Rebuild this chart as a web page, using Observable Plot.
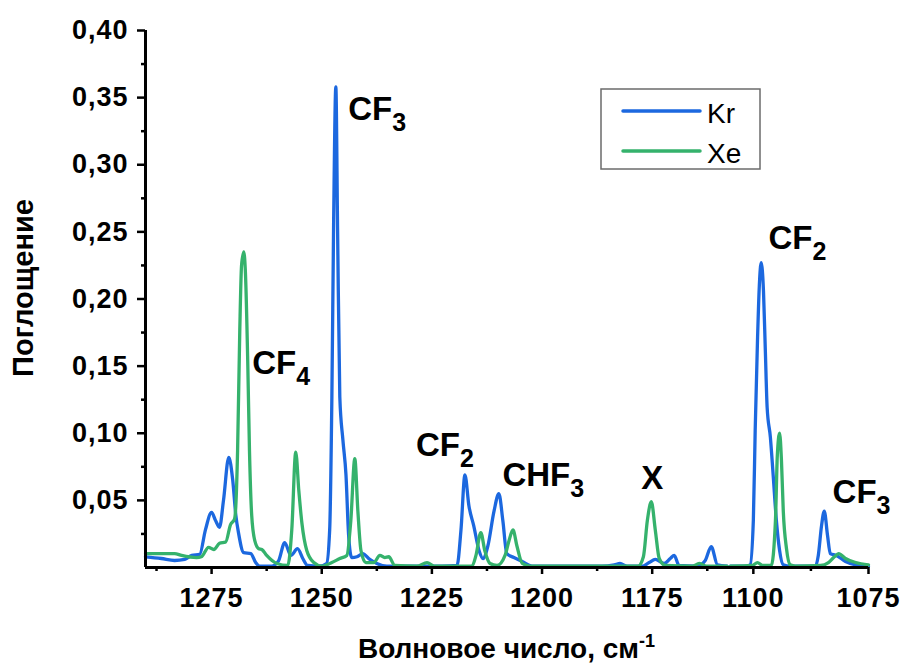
<!DOCTYPE html>
<html>
<head>
<meta charset="utf-8">
<script src="https://cdn.jsdelivr.net/npm/d3@7"></script>
<script src="https://cdn.jsdelivr.net/npm/@observablehq/plot@0.6"></script>
<style>
  body { margin: 0; background: #fff; }
  svg text { font-family: "Liberation Sans", Arial, sans-serif; }
  g[aria-label="y-axis tick label"] text, g[aria-label="x-axis tick label"] text { letter-spacing: 1px; }
</style>
</head>
<body>
<div id="chart"></div>
<script>
// ---- Data ----
const seriesNames = ["Kr", "Xe"];
const seriesColors = ["#1c68df", "#35b26c"];

const krWavenumber = [1290, 1286.4, 1283.4, 1281.1, 1279.5, 1277.7, 1276.4, 1275.0, 1274.1, 1273.2, 1272.3, 1271.1, 1270.2, 1269.5, 1268.9, 1267.7, 1266.1, 1265.0, 1264.1, 1261.4, 1259.8, 1258.4, 1257.0, 1255.5, 1254.3, 1253.2, 1250.5, 1248.9, 1248.2, 1247.7, 1247.3, 1246.8, 1246.4, 1245.9, 1245.2, 1244.5, 1243.9, 1243.2, 1242.0, 1240.7, 1239.1, 1237.5, 1235.2, 1222.7, 1219.3, 1218.4, 1217.5, 1216.6, 1215.5, 1214.3, 1213.4, 1212.3, 1210.9, 1209.8, 1208.9, 1208.0, 1206.4, 1204.5, 1202.3, 1186.4, 1183.6, 1182.3, 1180.7, 1177.3, 1175.7, 1174.3, 1172.3, 1170.9, 1170.0, 1168.9, 1164.8, 1163.0, 1161.6, 1160.2, 1158.0,
  1105, 1101.7, 1100.7, 1100.0, 1099.6, 1099.1, 1098.7, 1098.3, 1097.8, 1097.4, 1097.0, 1096.3, 1095.7, 1095.0, 1094.3, 1093.5, 1092.0, 1086.5, 1085.9, 1085.2, 1084.6, 1083.9, 1083.3, 1082.0, 1080.0, 1077.8, 1075.0];
const krAbsorbance = [0.008, 0.0067, 0.0052, 0.006, 0.009, 0.0097, 0.028, 0.041, 0.035, 0.030, 0.050, 0.082, 0.065, 0.039, 0.026, 0.011, 0.0104, 0.0037, 0.001, 0.001, 0.005, 0.0186, 0.009, 0.014, 0.0067, 0.0015, 0.001, 0.003, 0.028, 0.127, 0.258, 0.358, 0.251, 0.127, 0.095, 0.069, 0.024, 0.0074, 0.008, 0.0104, 0.006, 0.003, 0.001, 0.001, 0.0015, 0.028, 0.069, 0.046, 0.031, 0.0127, 0.0067, 0.016, 0.042, 0.055, 0.035, 0.0104, 0.0074, 0.0045, 0.001, 0.001, 0.002, 0.003, 0.001, 0.001, 0.0037, 0.006, 0.003, 0.0067, 0.009, 0.0015, 0.001, 0.005, 0.0156, 0.002, 0.001,
  0.001, 0.001, 0.002, 0.035, 0.102, 0.169, 0.21, 0.227, 0.206, 0.162, 0.119, 0.097, 0.069, 0.035, 0.0127, 0.002, 0.001, 0.001, 0.009, 0.031, 0.042, 0.024, 0.0104, 0.009, 0.0045, 0.002, 0.001];

const xeWavenumber = [1290, 1286.4, 1283.4, 1281.8, 1278.4, 1277.3, 1275.7, 1274.5, 1273.2, 1271.8, 1270.7, 1269.8, 1269.5, 1269.1, 1268.6, 1268.2, 1267.7, 1267.3, 1266.8, 1266.4, 1265.9, 1265.2, 1264.3, 1263.6, 1262.5, 1260.2, 1257.7, 1256.8, 1255.9, 1255.2, 1254.5, 1253.4, 1251.8, 1250.0, 1247.7, 1245.9, 1244.3, 1243.4, 1242.5, 1241.8, 1241.1, 1240.0, 1238.2, 1236.8, 1235.7, 1234.8, 1233.4, 1228.4, 1226.1, 1224.5, 1215.9, 1215.0, 1213.9, 1213.0, 1211.8, 1210.2, 1208.4, 1207.5, 1206.6, 1205.7, 1204.5, 1202.7, 1178.2, 1177.0, 1176.1, 1175.2, 1174.3, 1173.4, 1172.0, 1165.9, 1164.3, 1162.7, 1158.0,
  1105, 1100.2, 1099.1, 1098.0, 1096.1, 1095.2, 1094.8, 1094.3, 1093.9, 1093.5, 1092.8, 1092.0, 1090.9, 1085.4, 1083.7, 1082.4, 1081.5, 1080.0, 1077.8, 1075.0];
const xeAbsorbance = [0.0104, 0.0104, 0.0104, 0.009, 0.0074, 0.008, 0.015, 0.0134, 0.018, 0.019, 0.032, 0.036, 0.046, 0.087, 0.177, 0.225, 0.235, 0.218, 0.154, 0.087, 0.039, 0.020, 0.014, 0.0134, 0.009, 0.003, 0.0015, 0.028, 0.086, 0.057, 0.033, 0.0127, 0.0037, 0.001, 0.0037, 0.0067, 0.009, 0.035, 0.081, 0.042, 0.0127, 0.0037, 0.0037, 0.009, 0.0074, 0.008, 0.0015, 0.001, 0.0037, 0.001, 0.001, 0.009, 0.026, 0.0127, 0.003, 0.0015, 0.009, 0.020, 0.028, 0.016, 0.003, 0.001, 0.001, 0.008, 0.035, 0.049, 0.028, 0.0067, 0.0015, 0.001, 0.003, 0.001, 0.001,
  0.001, 0.0015, 0.0037, 0.0015, 0.0015, 0.035, 0.083, 0.1, 0.08, 0.042, 0.014, 0.002, 0.001, 0.0015, 0.0037, 0.008, 0.0104, 0.0067, 0.0037, 0.002];

// broken x axis: segment 1 [1290 → 1158], segment 2 [1105 → 1075]
const segment1 = [1290, 1158];
const segment2 = [1105, 1075];
const xMajorTicks = [1275, 1250, 1225, 1200, 1175, 1100, 1075];
const xMinorTicks = [1287.5, 1262.5, 1237.5, 1212.5, 1187.5, 1162.5, 1087.5];
const yMajorTicks = [0.05, 0.10, 0.15, 0.20, 0.25, 0.30, 0.35, 0.40];
const yMinorTicks = [0.025, 0.075, 0.125, 0.175, 0.225, 0.275, 0.325, 0.375];

const peakNames = ["CF_3", "CF_4", "CF_2", "CHF_3", "X", "CF_2", "CF_3"];
const peakWavenumber = [1244.0, 1265.8, 1228.6, 1209.0, 1177.5, 1096.7, 1082.8];
const peakAbsorbance = [0.333, 0.1445, 0.0834, 0.061, 0.0588, 0.2376, 0.0477];

// ---- Build tables ----
const splitAt = (segment1[1] + segment2[0]) / 2;
const toRows = (wn, ab, series) => wn.map((w, i) => ({wn: w, v: ab[i], series, seg: w > splitAt ? 1 : 2}));
const kr = toRows(krWavenumber, krAbsorbance, seriesNames[0]);
const xe = toRows(xeWavenumber, xeAbsorbance, seriesNames[1]);
const labels = peakNames.map((n, i) => ({name: n, wn: peakWavenumber[i], v: peakAbsorbance[i]}));

const W = 907, H = 668;
const mL = 145, mR = 39, mT = 30, mB = 101;

// scale transform for the broken axis: axis length units (segment 2 slightly stretched, small gap)
const k1 = 4.4, k2 = 4.6, gapLen = 3.2;
const len1 = (segment1[0] - segment1[1]) * k1;
const brokenAxis = wn => wn > splitAt
  ? (segment1[0] - wn) * k1
  : len1 + gapLen + (segment2[0] - wn) * k2;
const axisLen = brokenAxis(segment2[1]);

const chart = Plot.plot({
  width: W, height: H,
  marginLeft: mL, marginRight: mR, marginTop: mT, marginBottom: mB,
  style: {fontFamily: '"Liberation Sans", Arial, sans-serif', background: "#fff", color: "#000"},
  x: {transform: brokenAxis, domain: [0, axisLen]},
  y: {domain: [0, 0.4]},
  marks: [
    Plot.line(kr, {x: "wn", y: "v", z: "seg", stroke: seriesColors[0], strokeWidth: 3.3, curve: "monotone-x"}),
    Plot.line(xe, {x: "wn", y: "v", z: "seg", stroke: seriesColors[1], strokeWidth: 3.3, curve: "monotone-x"}),
    Plot.ruleY([0], {strokeWidth: 3}),
    Plot.ruleX([segment1[0]], {strokeWidth: 3}),
    Plot.axisY(yMajorTicks, {tickSize: 8, tickPadding: 9, strokeWidth: 2.5,
      tickFormat: d => d.toFixed(2).replace(".", ","), fontSize: 27, fontWeight: "bold", label: null}),
    Plot.axisY(yMinorTicks, {tickSize: 4, strokeWidth: 2.5, fill: "none", label: null}),
    Plot.axisX(xMajorTicks, {tickSize: 7, tickPadding: 13, strokeWidth: 2.5,
      tickFormat: d => String(d), fontSize: 27, fontWeight: "bold", label: null}),
    Plot.axisX(xMinorTicks, {tickSize: 4, strokeWidth: 2.5, fill: "none", label: null}),
    Plot.text(labels, {x: "wn", y: "v", text: "name", textAnchor: "start", lineAnchor: "bottom",
      fontSize: 33, fontWeight: "bold", className: "peak-label"})
  ]
});

const svg = d3.select(chart);

// subscripts in peak labels
svg.selectAll("g.peak-label text").each(function () {
  const [main, sub] = this.textContent.split("_");
  this.textContent = "";
  const t = d3.select(this);
  t.append("tspan").text(main);
  if (sub) t.append("tspan").attr("dy", 11).attr("font-size", 25).text(sub);
});

// axis break marks
const xs = chart.scale("x");
const xb = (xs.apply(segment1[1]) + xs.apply(segment2[0])) / 2;
const y0 = chart.scale("y").apply(0);
const brk = svg.append("g").attr("stroke", "#000").attr("stroke-width", 3);
brk.append("rect").attr("x", xb - 3).attr("y", y0 - 3).attr("width", 6).attr("height", 6).attr("fill", "#fff").attr("stroke", "none");
[-5, 5].forEach(o => brk.append("line")
  .attr("x1", xb + o - 4).attr("y1", y0 + 7).attr("x2", xb + o + 4).attr("y2", y0 - 7));

// axis titles
svg.append("text")
  .attr("transform", `translate(33,288) rotate(-90)`)
  .attr("text-anchor", "middle").attr("font-size", 29).attr("font-weight", "bold")
  .text("Поглощение");
const xt = svg.append("text")
  .attr("x", (mL + W - mR) / 2).attr("y", 658)
  .attr("text-anchor", "middle").attr("font-size", 28).attr("font-weight", "bold");
xt.append("tspan").text("Волновое число, см");
xt.append("tspan").attr("dy", -11).attr("font-size", 18).text("-1");

// legend
const lg = svg.append("g");
lg.append("rect").attr("x", 601).attr("y", 89).attr("width", 159).attr("height", 80)
  .attr("fill", "#fff").attr("stroke", "#6b6b6b").attr("stroke-width", 1.5);
seriesNames.forEach((n, i) => {
  const yy = 111 + 40 * i;
  lg.append("line").attr("x1", 623).attr("x2", 700).attr("y1", yy).attr("y2", yy)
    .attr("stroke", seriesColors[i]).attr("stroke-width", 3.5).attr("stroke-linecap", "round");
  lg.append("text").attr("x", 707).attr("y", yy + 12).attr("font-size", 28)
    .attr("text-anchor", "start").text(n);
});

document.getElementById("chart").appendChild(chart);
</script>
</body>
</html>
